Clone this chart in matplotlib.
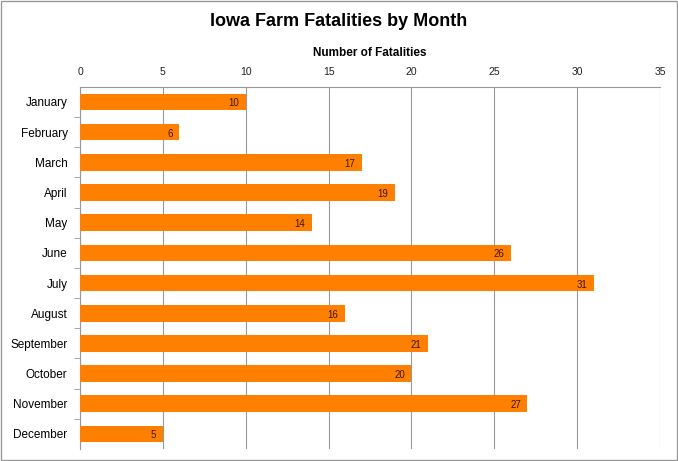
import matplotlib
matplotlib.use("Agg")
from matplotlib import pyplot as plt
from matplotlib.patches import Rectangle

months = ["January", "February", "March", "April", "May", "June",
          "July", "August", "September", "October", "November", "December"]
fatalities = [10, 6, 17, 19, 14, 26, 31, 16, 21, 20, 27, 5]
xticks = [0, 5, 10, 15, 20, 25, 30, 35]

plt.rcParams['font.family'] = ['Liberation Sans', 'DejaVu Sans']

fig = plt.figure(figsize=(6.78, 4.61), dpi=100)
ax = fig.add_axes([0.118, 0.026, 0.8555, 0.7855])

pos = list(range(len(months)))
bars = ax.barh(pos, fatalities, height=0.55, color="#ff8000", zorder=3)

# value labels inside the bar ends
for p, v in zip(pos, fatalities):
    ax.text(v - 0.4, p + 0.05, str(v), ha="right", va="center",
            fontsize=7, color="#3a1500", zorder=4)

ax.set_xlim(0, 35)
ax.set_ylim(len(months) - 0.5, -0.5)
ax.set_xticks(xticks)
ax.xaxis.tick_top()
ax.xaxis.set_label_position("top")
ax.set_xlabel("Number of Fatalities", fontsize=8.5, fontweight="bold", labelpad=8)
ax.tick_params(axis="x", length=0, labelsize=7.5, pad=7, colors="#222222")

ax.set_yticks(pos)
ax.set_yticklabels(months, fontsize=8.5)
ax.set_yticks([p + 0.5 for p in pos[:-1]], minor=True)
ax.tick_params(axis="y", which="major", length=0, pad=9)
ax.tick_params(axis="y", which="minor", length=4, color="#999999")

ax.grid(axis="x", color="#999999", linewidth=0.8, zorder=0)
for side in ["right", "bottom"]:
    ax.spines[side].set_visible(False)
for side in ["top", "left"]:
    ax.spines[side].set_color("#999999")

fig.text(0.5, 0.953, "Iowa Farm Fatalities by Month", ha="center", va="center",
         fontsize=13, fontweight="bold")

fig.patches.append(Rectangle((0.002, 0.002), 0.996, 0.996, transform=fig.transFigure,
                             fill=False, edgecolor="#999999", linewidth=1))

fig.savefig("out.png", dpi=100)
